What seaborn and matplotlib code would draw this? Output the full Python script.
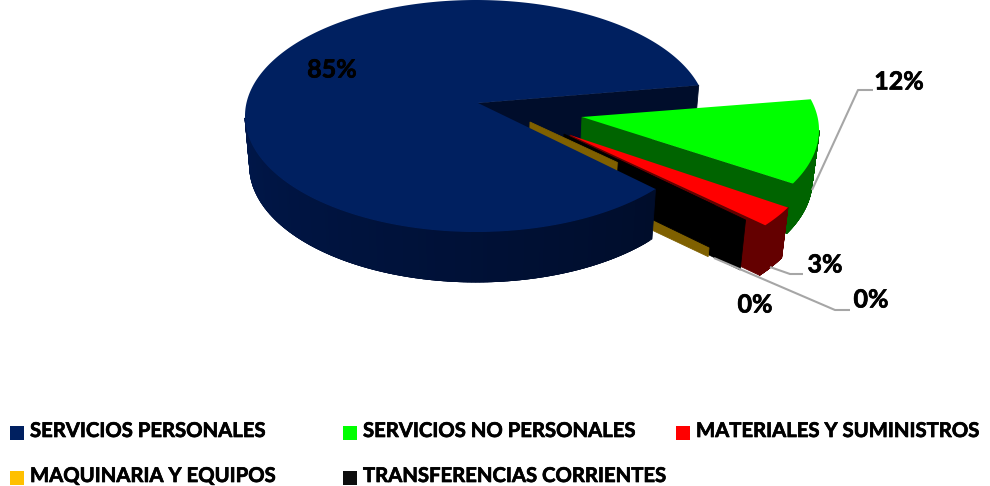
import numpy as np
import seaborn as sns
import matplotlib.pyplot as plt
from matplotlib.colors import to_rgb
from matplotlib.patches import Rectangle
import matplotlib.patheffects as pe

sns.set_theme(style='white')
plt.rcParams['font.family'] = ['Lato', 'DejaVu Sans']

categories = ['SERVICIOS PERSONALES', 'SERVICIOS NO PERSONALES', 'MATERIALES Y SUMINISTROS',
              'MAQUINARIA Y EQUIPOS', 'TRANSFERENCIAS CORRIENTES']
values = [84.9, 11.9, 2.9, 0.15, 0.15]
labels = ['85%', '12%', '3%', '0%', '0%']
top_colors = sns.color_palette(['#002060', '#00ff00', '#ff0000', '#ffc000', '#0d0d0d'])
wall_colors = sns.color_palette(['#000d2b', '#006400', '#640000', '#7f6000', '#000000'])

# layout of the pie, in pixels
centers = [(476, 116), (588, 130), (583, 154), (532, 134.5), (566, 147)]
apex_shift = [(2, -13), (-6, -13), (-13, -19), (-2, -12.5), (-2, -13)]
RX, RY = 231, 116
DEPTH = 50
SHRINK = 0.98
START = -39.0

# clockwise from the first slice
sweep = np.array(values) / sum(values) * 360
t_start = START - np.concatenate([[0], np.cumsum(sweep)[:-1]])
t_end = t_start - sweep

fig, ax = plt.subplots(figsize=(9.9, 4.86), dpi=100)
fig.subplots_adjust(0, 0, 1, 1)
ax.set_xlim(0, 990)
ax.set_ylim(486, 0)
ax.axis('off')

_z = [2]


def next_z():
    _z[0] += 1
    return _z[0]


def rim(i, t):
    t = np.radians(t)
    return centers[i][0] + RX * np.cos(t), centers[i][1] - RY * np.sin(t)


def apex(i):
    return centers[i][0] + apex_shift[i][0], centers[i][1] + apex_shift[i][1]


def drop(x, y, d=DEPTH):
    # lower edge of a wall, slightly narrower because of the perspective
    return 478 + (np.asarray(x) - 478) * SHRINK, np.asarray(y) + d


def draw_top(i):
    x, y = rim(i, np.linspace(t_start[i], t_end[i], 400))
    ax0, ay0 = apex(i)
    ax.fill(np.r_[ax0, x], np.r_[ay0, y], color=top_colors[i], lw=0, zorder=next_z())


def draw_cut(i, r0=0.0, r1=1.0, d=DEPTH):
    ex, ey = rim(i, t_end[i])
    ax0, ay0 = apex(i)
    x = np.array([ax0 + (ex - ax0) * r0, ax0 + (ex - ax0) * r1])
    y = np.array([ay0 + (ey - ay0) * r0, ay0 + (ey - ay0) * r1])
    bx, by = drop(x, y, d)
    ax.fill(np.r_[x, bx[::-1]], np.r_[y, by[::-1]], color=wall_colors[i], lw=0.6, zorder=next_z())


def draw_arc(i, shade=None):
    t = np.linspace(t_start[i], t_end[i], 300)
    t = t[np.sin(np.radians(t)) < 0]
    if len(t) < 2:
        return
    z = next_z()
    # overlapping strips so no seams show
    for k in range(len(t) - 1):
        x, y = rim(i, t[k:k + 4])
        bx, by = drop(x, y)
        c = wall_colors[i]
        if shade is not None:
            f = k / (len(t) - 2)
            c = tuple(np.array(shade[0]) * f + np.array(shade[1]) * (1 - f))
        ax.fill(np.r_[x, bx[::-1]], np.r_[y, by[::-1]], color=c, lw=0.6, zorder=z)


# back to front
draw_cut(0)
draw_cut(1)
draw_arc(1)
draw_top(1)
draw_arc(2)
draw_cut(2)
draw_top(2)
draw_cut(4)
draw_cut(3)
draw_cut(4, 0.30, 0.83, 42)
draw_arc(0, shade=(to_rgb('#00174a'), to_rgb('#000d2b')))
draw_top(0)

# leader lines
leaders_x = [[812, 858, 873], [770, 790, 803], [714, 835, 850]]
leaders_y = [[190, 90, 90], [267, 274, 274], [258, 310, 310]]
for lx, ly in zip(leaders_x, leaders_y):
    ax.plot(lx, ly, color='#a6a6a6', lw=1.5, zorder=50, solid_capstyle='butt')

heavy = [pe.withStroke(linewidth=0.5, foreground='black')]

# data labels
label_x = [332, 899, 825, 755, 871]
label_y = [70, 82, 265, 305, 300]
for s, lx, ly in zip(labels, label_x, label_y):
    ax.text(lx, ly, s, ha='center', va='center', fontsize=18, fontweight='bold',
            color='black', zorder=60, path_effects=heavy)

# legend
legend_x = [10, 343, 676, 10, 343]
legend_y = [433, 433, 433, 478, 478]
for name, c, lx, ly in zip(categories, top_colors, legend_x, legend_y):
    ax.add_patch(Rectangle((lx, ly - 7), 14, 14, color=c, lw=0))
    ax.text(lx + 20, ly - 2, name, ha='left', va='center', fontsize=14.6, fontweight='bold',
            color='black', path_effects=heavy)

fig.savefig('out.png', dpi=100)
